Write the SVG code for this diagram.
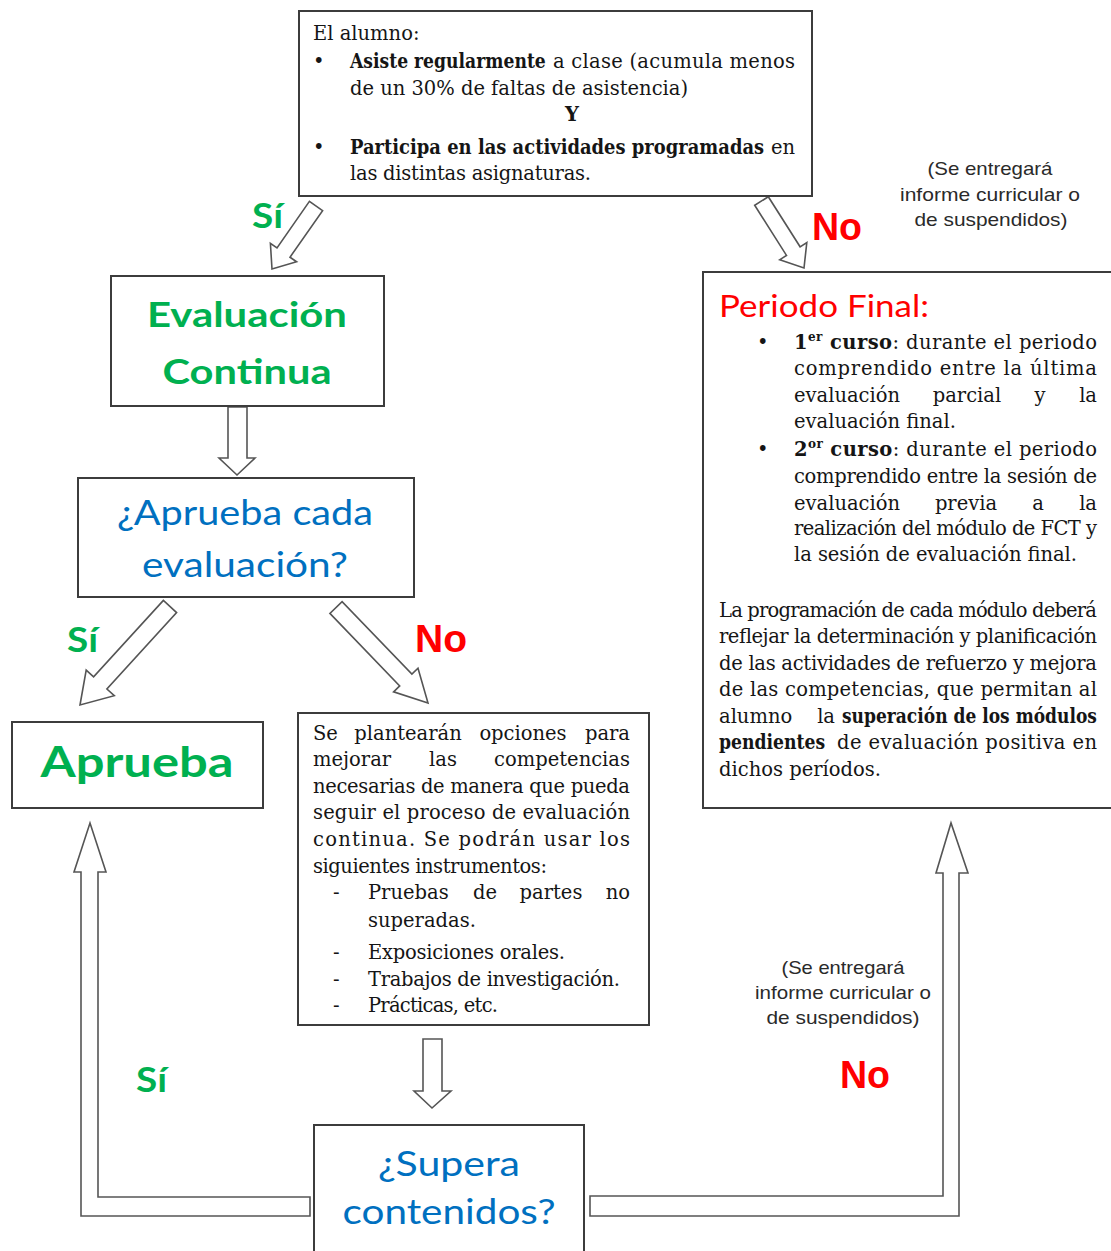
<svg xmlns="http://www.w3.org/2000/svg" width="1111" height="1251" viewBox="0 0 1111 1251">
<style>
.box{fill:#fff;stroke:#3c3c3c;stroke-width:2}
.arrow{fill:#fff;stroke:#555;stroke-width:1.6;stroke-linejoin:miter}
.serif{font-family:"DejaVu Serif","Liberation Serif",serif;font-size:19.5px;fill:#151515}
.b{font-weight:bold}
.m{text-anchor:middle}
.e{text-anchor:end}
.cal{font-family:Lato,"Open Sans",sans-serif}
.note{font-family:"Liberation Sans",Arial,sans-serif;font-size:19px;fill:#2a2a2a;text-anchor:middle}
.yes{font-family:Lato,"Open Sans",sans-serif;font-weight:bold;font-size:34px;fill:#00B050}
.no{font-family:"Liberation Sans",Arial,sans-serif;font-weight:bold;font-size:38px;fill:#FF0000}
.green{fill:#00B050}
.blue{fill:#0070C0}
.red{fill:#FF0000}
</style>
<rect width="1111" height="1251" fill="#fff"/>

<g id="connectors">
  <polygon class="arrow" points="309.4,201.4 277,248 270.4,243.4 272,269 296.6,261.8 290,257.2 322.6,210.6"/>
  <polygon class="arrow" points="754.7,205.3 786.5,255.4 779.8,259.7 804,268 806.8,242.5 800.1,246.8 768.3,196.7"/>
  <polygon class="arrow" points="228,407 247,407 247,458 255,458 237,475 219,458 228,458"/>
  <polygon class="arrow" points="163.4,600.4 93.6,676.8 86.2,670.1 80,705 114.3,695.7 106.9,689 176.6,612.6"/>
  <polygon class="arrow" points="329.9,613.4 399.7,685.9 393.6,691.8 428,703 418,668.2 411.9,674.1 342.1,601.6"/>
  <polygon class="arrow" points="423,1039 442,1039 442,1091 451,1091 432,1108 414,1091 423,1091"/>
  <polygon class="arrow" points="310,1197 98,1197 98,872 106,872 90,823 74,872 81,872 81,1216 310,1216"/>
  <polygon class="arrow" points="590,1196 943,1196 943,873 936,873 951,823 968,873 959,873 959,1216 590,1216"/>
</g>

<g id="labels">
  <text class="yes" x="252" y="228" textLength="31" lengthAdjust="spacingAndGlyphs">Sí</text>
  <text class="no" x="812" y="240" textLength="50" lengthAdjust="spacingAndGlyphs">No</text>
  <text class="yes" x="67" y="652" textLength="31" lengthAdjust="spacingAndGlyphs">Sí</text>
  <text class="no" x="415" y="652" textLength="52" lengthAdjust="spacingAndGlyphs">No</text>
  <text class="yes" x="136" y="1092" textLength="31" lengthAdjust="spacingAndGlyphs">Sí</text>
  <text class="no" x="840" y="1088" textLength="50" lengthAdjust="spacingAndGlyphs">No</text>
  <g id="note-top">
    <text class="note" x="990" y="175" textLength="125" lengthAdjust="spacingAndGlyphs">(Se entregará</text>
    <text class="note" x="990" y="201" textLength="180" lengthAdjust="spacingAndGlyphs">informe curricular o</text>
    <text class="note" x="991" y="226" textLength="153" lengthAdjust="spacingAndGlyphs">de suspendidos)</text>
  </g>
  <g id="note-bottom">
    <text class="note" x="843" y="974" textLength="123" lengthAdjust="spacingAndGlyphs">(Se entregará</text>
    <text class="note" x="843" y="999" textLength="176" lengthAdjust="spacingAndGlyphs">informe curricular o</text>
    <text class="note" x="843" y="1024" textLength="153" lengthAdjust="spacingAndGlyphs">de suspendidos)</text>
  </g>
</g>

<g id="node-alumno">
  <rect class="box" x="299" y="11" width="513" height="185"/>
  <text class="serif" x="313" y="40">El alumno:</text>
  <text class="serif" x="313" y="68">•</text>
  <text class="serif b" transform="translate(350,68) scale(0.87,1)" x="0" y="0" textLength="225" lengthAdjust="spacingAndGlyphs">Asiste regularmente</text>
  <text class="serif" x="553" y="68" textLength="242">a clase (acumula menos</text>
  <text class="serif" x="350" y="95" textLength="338">de un 30% de faltas de asistencia)</text>
  <text class="serif b" x="572" y="121" text-anchor="middle">Y</text>
  <text class="serif" x="313" y="154">•</text>
  <text class="serif b" transform="translate(350,154) scale(0.87,1)" x="0" y="0" textLength="476" lengthAdjust="spacingAndGlyphs">Participa en las actividades programadas</text>
  <text class="serif e" x="795" y="154">en</text>
  <text class="serif" x="350" y="180" textLength="241">las distintas  asignaturas.</text>
</g>

<g id="node-evaluacion-continua">
  <rect class="box" x="111" y="276" width="273" height="130"/>
  <text class="cal green b" x="247" y="327" font-size="34" text-anchor="middle" textLength="200" lengthAdjust="spacingAndGlyphs">Evaluación</text>
  <text class="cal green b" x="247" y="384" font-size="34" text-anchor="middle" textLength="169" lengthAdjust="spacingAndGlyphs">Continua</text>
</g>

<g id="node-aprueba-cada">
  <rect class="box" x="78" y="478" width="336" height="119"/>
  <text class="cal blue" x="245" y="525" font-size="34" text-anchor="middle" textLength="256" lengthAdjust="spacingAndGlyphs">¿Aprueba cada</text>
  <text class="cal blue" x="245" y="577" font-size="34" text-anchor="middle" textLength="206" lengthAdjust="spacingAndGlyphs">evaluación?</text>
</g>

<g id="node-aprueba">
  <rect class="box" x="12" y="722" width="251" height="86"/>
  <text class="cal green b" x="137" y="777" font-size="42" text-anchor="middle" textLength="193" lengthAdjust="spacingAndGlyphs">Aprueba</text>
</g>

<g id="node-opciones">
  <rect class="box" x="298" y="713" width="351" height="312"/>
  <text class="serif" x="313" y="740">Se</text>
  <text class="serif m" x="408" y="740">plantearán</text>
  <text class="serif m" x="523" y="740">opciones</text>
  <text class="serif e" x="630" y="740">para</text>
  <text class="serif" x="313" y="766">mejorar</text>
  <text class="serif m" x="443" y="766">las</text>
  <text class="serif e" x="630" y="766">competencias</text>
  <text class="serif" x="313" y="793" textLength="317">necesarias de manera que pueda</text>
  <text class="serif" x="313" y="819" textLength="317">seguir el proceso de evaluación</text>
  <text class="serif" x="313" y="846" textLength="317">continua. Se podrán usar los</text>
  <text class="serif" x="313" y="873" textLength="234">siguientes instrumentos:</text>
  <text class="serif" x="333" y="899">-</text>
  <text class="serif" x="368" y="899">Pruebas</text>
  <text class="serif m" x="485" y="899">de</text>
  <text class="serif m" x="551" y="899">partes</text>
  <text class="serif e" x="630" y="899">no</text>
  <text class="serif" x="368" y="927">superadas.</text>
  <text class="serif" x="333" y="959">-</text>
  <text class="serif" x="368" y="959" textLength="197">Exposiciones orales.</text>
  <text class="serif" x="333" y="986">-</text>
  <text class="serif" x="368" y="986" textLength="252">Trabajos de investigación.</text>
  <text class="serif" x="333" y="1012">-</text>
  <text class="serif" x="368" y="1012" textLength="130">Prácticas, etc.</text>
</g>

<g id="node-periodo-final">
  <rect class="box" x="703" y="272" width="412" height="536"/>
  <text class="cal red" x="719" y="317" font-size="30" textLength="210" lengthAdjust="spacingAndGlyphs">Periodo Final:</text>
  <text class="serif" x="757" y="349">•</text>
  <text class="serif" x="794" y="349" textLength="303"><tspan class="b">1<tspan font-size="12" dy="-8">er</tspan><tspan dy="8"> curso</tspan></tspan>: durante el periodo</text>
  <text class="serif" x="794" y="375" textLength="303">comprendido entre la última</text>
  <text class="serif" x="794" y="402">evaluación</text>
  <text class="serif m" x="967" y="402">parcial</text>
  <text class="serif m" x="1040" y="402">y</text>
  <text class="serif e" x="1097" y="402">la</text>
  <text class="serif" x="794" y="428">evaluación final.</text>
  <text class="serif" x="757" y="456">•</text>
  <text class="serif" x="794" y="456" textLength="303"><tspan class="b">2<tspan font-size="12" dy="-8">or</tspan><tspan dy="8"> curso</tspan></tspan>: durante el periodo</text>
  <text class="serif" x="794" y="483" textLength="303">comprendido entre la sesión de</text>
  <text class="serif" x="794" y="510">evaluación</text>
  <text class="serif m" x="966" y="510">previa</text>
  <text class="serif m" x="1038" y="510">a</text>
  <text class="serif e" x="1097" y="510">la</text>
  <text class="serif" x="794" y="535" textLength="303">realización del módulo de FCT y</text>
  <text class="serif" x="794" y="561" textLength="283">la sesión de evaluación final.</text>
  <text class="serif" x="719" y="617" textLength="378">La programación de cada módulo deberá</text>
  <text class="serif" x="719" y="643" textLength="378">reflejar la determinación y planificación</text>
  <text class="serif" x="719" y="670" textLength="378">de las actividades de refuerzo y mejora</text>
  <text class="serif" x="719" y="696" textLength="378">de las competencias, que permitan al</text>
  <text class="serif" x="719" y="723">alumno</text>
  <text class="serif e" x="835" y="723">la</text>
  <text class="serif b" transform="translate(842,723) scale(0.87,1)" x="0" y="0" textLength="293" lengthAdjust="spacingAndGlyphs">superación de los módulos</text>
  <text class="serif b" transform="translate(719,749) scale(0.87,1)" x="0" y="0" textLength="122" lengthAdjust="spacingAndGlyphs">pendientes</text>
  <text class="serif" x="837" y="749" textLength="260">de evaluación positiva en</text>
  <text class="serif" x="719" y="776">dichos períodos.</text>
</g>

<g id="node-supera">
  <rect class="box" x="314" y="1125" width="270" height="140"/>
  <text class="cal blue" x="449" y="1176" font-size="35" text-anchor="middle" textLength="142" lengthAdjust="spacingAndGlyphs">¿Supera</text>
  <text class="cal blue" x="449" y="1224" font-size="35" text-anchor="middle" textLength="213" lengthAdjust="spacingAndGlyphs">contenidos?</text>
</g>
</svg>
